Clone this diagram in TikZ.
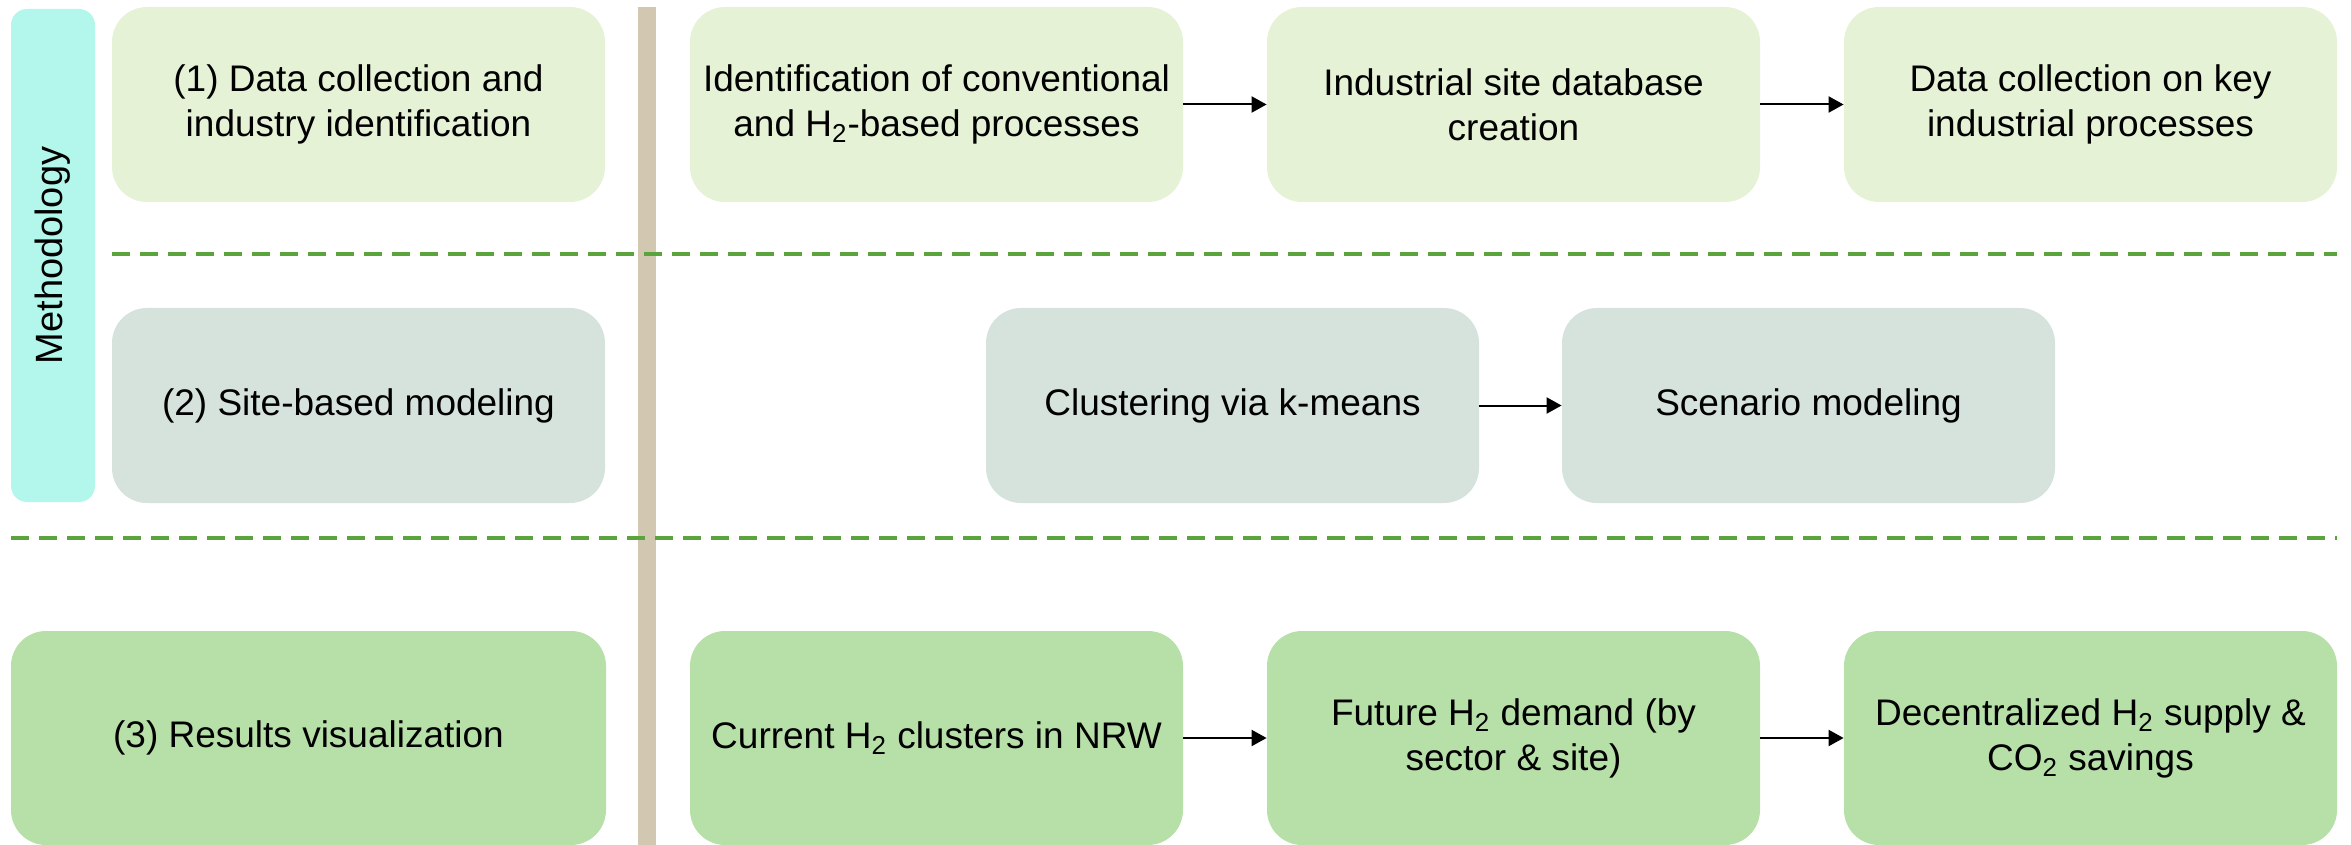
\documentclass[tikz,border=0pt]{standalone}
\usepackage{fontspec}
\setmainfont{Liberation Sans}
\usetikzlibrary{arrows.meta}
\definecolor{rowone}{HTML}{E6F2D6}
\definecolor{rowtwo}{HTML}{D6E2DC}
\definecolor{rowthree}{HTML}{B7E0A9}
\definecolor{methcol}{HTML}{B3F7EC}
\definecolor{sepcol}{HTML}{D2C8B2}
\definecolor{dashcol}{HTML}{5BA33D}
\tikzset{
  boxbase/.style={rectangle, rounded corners=17.5pt, inner sep=0pt, align=center,
    font=\fontsize{18.5}{22.5}\selectfont, text=black},
  boxone/.style={boxbase, fill=rowone, minimum width=246.5pt, minimum height=97.5pt},
  boxtwo/.style={boxbase, fill=rowtwo, minimum width=246.5pt, minimum height=97.5pt},
  boxthree/.style={boxbase, fill=rowthree, minimum width=246.5pt, minimum height=107pt},
  flowarrow/.style={-{Triangle[length=7.5pt,width=8pt]}, line width=1pt, black},
  rowsep/.style={dashcol, line width=2pt, dash pattern=on 9pt off 5pt},
}
\begin{document}
\begin{tikzpicture}[x=0.5pt,y=-0.5pt]
\useasboundingbox (0,0) rectangle (2351,845);
\clip (0,0) rectangle (2351,845);

% separator bar
\fill[sepcol] (638,7) rectangle (656,850);

% dashed row separators
\draw[rowsep] (112,254) -- (2337,254);
\draw[rowsep] (11,538) -- (2337,538);

% methodology bar
\node[rectangle, rounded corners=8pt, fill=methcol, minimum width=42pt, minimum height=246.5pt,
  inner sep=0pt] (meth) at (53,255.5) {};
\node[rotate=90, font=\fontsize{19}{22}\selectfont] (methlabel) at (meth.center) {Methodology};

% row 1
\node[boxone] (l1) at (358.5,104.5) {(1) Data collection and\\industry identification};
\node[boxone] (a1) at (936.5,104.5) {Identification of conventional\\and H\textsubscript{2}-based processes};
\node[boxone] (b1) at (1513.5,104.5) {Industrial site database\\creation};
\node[boxone] (c1) at (2090.5,104.5) {Data collection on key\\industrial processes};

% row 2
\node[boxtwo] (l2) at (358.5,405.5) {(2) Site-based modeling};
\node[boxtwo] (a2) at (1232.5,405.5) {Clustering via k-means};
\node[boxtwo] (b2) at (1808.5,405.5) {Scenario modeling};

% row 3
\node[boxthree, minimum width=297.5pt] (l3) at (308.5,738) {(3) Results visualization};
\node[boxthree] (a3) at (936.5,738) {Current H\textsubscript{2} clusters in NRW};
\node[boxthree] (b3) at (1513.5,738) {Future H\textsubscript{2} demand (by\\sector \& site)};
\node[boxthree] (c3) at (2090.5,738) {Decentralized H\textsubscript{2} supply \&\\CO\textsubscript{2} savings};

% arrows
\draw[flowarrow] (a1.east) -- (b1.west);
\draw[flowarrow] (b1.east) -- (c1.west);
\draw[flowarrow] (a2.east) -- (b2.west);
\draw[flowarrow] (a3.east) -- (b3.west);
\draw[flowarrow] (b3.east) -- (c3.west);
\end{tikzpicture}
\end{document}
